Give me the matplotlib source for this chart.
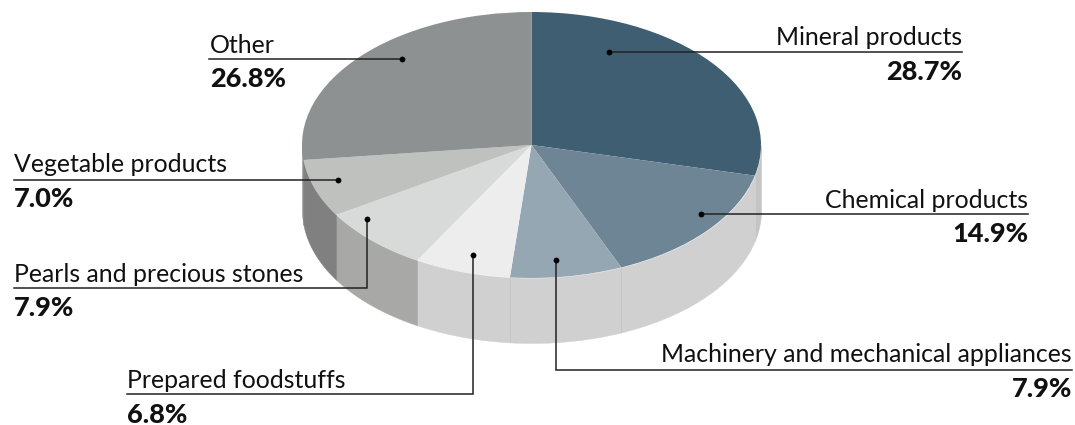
import numpy as np
import matplotlib
matplotlib.use('Agg')
import matplotlib.pyplot as plt

# shares of the total, clockwise from twelve o'clock
categories = ['Mineral products', 'Chemical products', 'Machinery and mechanical appliances',
              'Prepared foodstuffs', 'Pearls and precious stones', 'Vegetable products', 'Other']
shares = [28.7, 14.9, 7.9, 6.8, 7.9, 7.0, 26.8]
top_colors = ['#3f5e71', '#6d8594', '#95a7b2', '#ededed', '#d8dad9', '#bfc1bf', '#8d9191']
side_colors = ['#c4c4c4', '#d0d0d0', '#d0d0d0', '#d0d0d0', '#a8a8a6', '#808080', '#8a8a8a']

W, H = 1075, 425
CX, CY, RX, RY, DEPTH = 531.5, 145, 229.5, 133, 65

plt.rcParams['font.family'] = ['Lato', 'DejaVu Sans']

fig = plt.figure(figsize=(W / 100, H / 100), dpi=100, facecolor='white')
ax = fig.add_axes([0, 0, 1, 1])

# side wall first, only the front half of the ellipse shows
edges = np.cumsum([0] + shares) / sum(shares) * 360
thick = DEPTH / RY
for i, color in enumerate(side_colors):
    a0, a1 = max(edges[i], 90), min(edges[i + 1], 270)
    if a1 <= a0:
        continue
    t = np.radians(np.linspace(a0, a1, 80))
    ax.fill_between(np.sin(t), np.cos(t), np.cos(t) - thick, color=color, lw=0.3)
    # faint seam where two light walls meet
    if color == side_colors[i - 1]:
        ax.plot([np.sin(t[0])] * 2, [np.cos(t[0]), np.cos(t[0]) - thick], color='#c6c6c6', lw=0.7)

ax.pie(shares, colors=top_colors, startangle=90, counterclock=False, radius=1,
       wedgeprops={'linewidth': 0})
ax.set_aspect('auto')
ax.set_xlim(-CX / RX, (W - CX) / RX)
ax.set_ylim(-(H - CY) / RY, CY / RY)
ax.axis('off')

# leaders and labels live in a pixel-sized overlay
ov = fig.add_axes([0, 0, 1, 1], facecolor='none')
ov.set_xlim(0, W)
ov.set_ylim(H, 0)
ov.axis('off')

# (leader path, label anchor x, alignment, name y, value y)
leaders = [
    ([(609, 52), (962, 52)], 962, 'right', 37, 72),
    ([(701, 214), (1028, 214)], 1028, 'right', 200, 234),
    ([(556, 260), (556, 370), (1072, 370)], 1072, 'right', 355, 389),
    ([(473, 255), (473, 394), (127, 394)], 127, 'left', 380, 415),
    ([(367, 219), (367, 288), (14, 288)], 14, 'left', 274, 308),
    ([(338, 180), (14, 180)], 14, 'left', 165, 199),
    ([(402, 59), (209, 59)], 210, 'left', 45, 79),
]
for name, share, (path, x, ha, y1, y2) in zip(categories, shares, leaders):
    xs, ys = zip(*path)
    ov.plot(xs, ys, color='#222222', lw=1.1, solid_joinstyle='miter')
    ov.plot(xs[0], ys[0], 'o', color='black', ms=4.2, mew=0)
    ov.text(x, y1, name, ha=ha, va='center', fontsize=17.9, color='#111111')
    ov.text(x, y2, f'{share:.1f}%', ha=ha, va='center', fontsize=19.5, fontweight='black', color='#111111')

fig.savefig('out.png', dpi=100, facecolor='white')
plt.close(fig)
